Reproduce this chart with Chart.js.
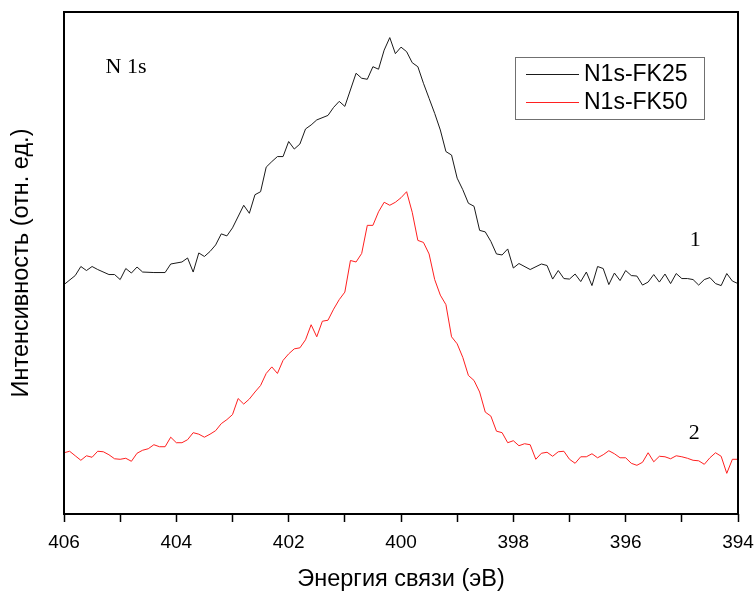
<!DOCTYPE html>
<html>
<head>
<meta charset="utf-8">
<script src="https://cdn.jsdelivr.net/npm/chart.js@4.4.1/dist/chart.umd.min.js"></script>
<style>
  html, body { margin: 0; padding: 0; background: #fff; }
  #wrap { width: 755px; height: 596px; position: relative; }
</style>
</head>
<body>
<div id="wrap"><canvas id="chart_n1s"></canvas></div>
<script>
// binding energy grid, eV (0.1 eV step)
var energy = [
  406.0, 405.9, 405.8, 405.7, 405.6, 405.5, 405.4, 405.3, 405.2, 405.1,
  405.0, 404.9, 404.8, 404.7, 404.6, 404.5, 404.4, 404.3, 404.2, 404.1,
  404.0, 403.9, 403.8, 403.7, 403.6, 403.5, 403.4, 403.3, 403.2, 403.1,
  403.0, 402.9, 402.8, 402.7, 402.6, 402.5, 402.4, 402.3, 402.2, 402.1,
  402.0, 401.9, 401.8, 401.7, 401.6, 401.5, 401.4, 401.3, 401.2, 401.1,
  401.0, 400.9, 400.8, 400.7, 400.6, 400.5, 400.4, 400.3, 400.2, 400.1,
  400.0, 399.9, 399.8, 399.7, 399.6, 399.5, 399.4, 399.3, 399.2, 399.1,
  399.0, 398.9, 398.8, 398.7, 398.6, 398.5, 398.4, 398.3, 398.2, 398.1,
  398.0, 397.9, 397.8, 397.7, 397.6, 397.5, 397.4, 397.3, 397.2, 397.1,
  397.0, 396.9, 396.8, 396.7, 396.6, 396.5, 396.4, 396.3, 396.2, 396.1,
  396.0, 395.9, 395.8, 395.7, 395.6, 395.5, 395.4, 395.3, 395.2, 395.1,
  395.0, 394.9, 394.8, 394.7, 394.6, 394.5, 394.4, 394.3, 394.2, 394.1,
  394.0
];

// N1s-FK25 (curve 1), arbitrary units
var fk25 = [
  45.7, null, 47.5, 49.3, 48.5, 49.3, 48.7, null, 47.7, 47.7,
  46.7, 48.9, 48.0, 49.2, 48.2, null, 48.1, null, 48.1, 49.8,
  null, 50.2, 51.0, 48.2, 52.0, 51.3, 52.3, 53.6, 55.8, 55.4,
  57.0, null, 61.5, 59.9, 63.6, 64.2, 69.1, 70.2, 71.2, 71.2,
  74.2, 72.7, 73.7, 76.7, 77.5, 78.5, null, 79.4, 81.0, 82.2,
  81.2, null, 87.8, 86.8, 86.6, 89.1, 88.6, 92.4, 94.9, 91.7,
  93.0, 92.1, 89.9, 89.1, 85.8, 82.8, 79.8, 76.5, 72.2, 71.5,
  66.9, 64.6, 61.9, 61.3, 56.5, 56.2, 54.3, 51.8, 51.6, 52.8,
  49.0, 49.9, null, 48.7, null, 49.8, 49.5, 46.8, 48.5, 46.9,
  46.8, 47.8, 46.3, 48.2, 45.5, 49.3, 48.9, 45.7, 48.0, 46.5,
  48.5, 47.5, 47.4, 45.6, 46.2, 47.7, 46.2, 47.8, 45.9, 47.9,
  46.9, 46.9, 46.7, 45.6, 46.7, 47.1, 45.9, 45.5, 47.9, 46.4,
  45.9
];

// N1s-FK50 (curve 2), arbitrary units
var fk50 = [
  12.2, 12.5, 11.6, 10.7, 11.6, 11.3, 12.5, 12.4, 11.8, 11.0,
  10.9, 11.1, 10.5, 12.1, 12.7, 13.0, 13.8, 13.4, 13.4, 15.3,
  14.2, 14.2, 14.8, 16.2, 15.9, 15.3, 15.9, 16.6, 18.0, 18.8,
  19.8, 23.0, 21.9, 22.9, 24.3, 25.6, 28.0, 29.3, 28.0, 30.6,
  31.9, 32.9, 33.1, 34.7, 37.7, 35.3, 38.4, 38.6, 40.8, 42.7,
  44.2, 50.5, 50.2, 51.9, 57.5, 57.5, 60.2, 62.1, 61.5, 62.1,
  63.0, 64.2, 60.1, 54.5, 54.1, 51.8, 46.7, 43.6, 41.7, 35.3,
  33.9, 31.2, 27.6, 26.6, 24.3, 20.3, 19.5, 16.5, 16.2, 14.2,
  14.6, 13.6, 14.0, 13.8, 10.9, 12.1, 12.3, 11.5, 12.4, 12.5,
  10.9, 10.1, 11.4, 11.4, 12.0, 11.2, 11.8, 12.6, 12.0, 11.2,
  11.2, 10.1, 9.7, 10.3, 12.2, 10.4, 11.5, 11.4, 11.0, 11.6,
  11.4, 11.1, 10.7, 10.6, 9.9, 11.2, 12.2, 11.5, 8.1, 10.9,
  10.9
];

// text notes inside the plot: [text, energy, intensity, align]
var notes = [
  ['N 1s', 405.26, 89.0, 'left'],
  ['1', 394.76, 54.6, 'center'],
  ['2', 394.78, 16.0, 'center']
];

function xy(ys) {
  return energy.map(function(e, i) { return { x: e, y: ys[i] }; });
}

var sansFont = '"Liberation Sans", Arial, sans-serif';
var serifFont = '"Liberation Serif", "Times New Roman", serif';

var chart_n1s = new Chart(document.getElementById('chart_n1s'), {
    type: 'line',
    data: {
        datasets: [
            {
                label: 'N1s-FK25',
                data: xy(fk25),
                borderColor: '#1a1a1a',
                borderWidth: 1,
                pointRadius: 0,
                tension: 0
            },
            {
                label: 'N1s-FK50',
                data: xy(fk50),
                borderColor: '#ff2020',
                borderWidth: 1,
                pointRadius: 0,
                tension: 0
            }
        ]
    },
    options: {
        animation: false,
        responsive: true,
        maintainAspectRatio: false,
        spanGaps: true,
        layout: {
            padding: { top: 12, right: 17, left: 0, bottom: 0 }
        },
        plugins: {
            legend: { display: false },
            tooltip: { enabled: false }
        },
        scales: {
            x: {
                type: 'linear',
                reverse: true,
                min: 394,
                max: 406,
                border: { display: false },
                grid: {
                    drawOnChartArea: false,
                    drawTicks: true,
                    tickLength: 8,
                    tickColor: '#000',
                    tickWidth: 1.5
                },
                ticks: {
                    stepSize: 1,
                    autoSkip: false,
                    maxRotation: 0,
                    padding: 9,
                    color: '#000',
                    font: { family: sansFont, size: 19 },
                    callback: function(value) {
                        return value % 2 === 0 ? String(value) : '';
                    }
                },
                title: {
                    display: true,
                    text: 'Энергия связи (эВ)',
                    color: '#000',
                    font: { family: sansFont, size: 23.5 },
                    padding: { top: 0, bottom: 2 }
                },
                afterFit: function(scale) {
                    scale.height = 82;
                    scale.paddingLeft = 0;
                    scale.paddingRight = 0;
                }
            },
            y: {
                type: 'linear',
                min: 0,
                max: 100,
                border: { display: false },
                grid: { display: false },
                ticks: { display: false },
                title: {
                    display: true,
                    text: 'Интенсивность (отн. ед.)',
                    color: '#000',
                    font: { family: sansFont, size: 23.5 },
                    padding: { top: 7, bottom: 0 }
                },
                afterFit: function(scale) { scale.width = 64; }
            }
        }
    },
    plugins: [{
        id: 'whiteBack',
        beforeDraw: (chart) => {
            const ctx = chart.ctx;
            ctx.save();
            ctx.fillStyle = 'white';
            ctx.fillRect(0, 0, chart.width, chart.height);
            ctx.restore();
        }
    }, {
        id: 'frameAndNotes',
        afterDraw: (chart) => {
            const ctx = chart.ctx;
            const a = chart.chartArea;
            const xs = chart.scales.x, ys = chart.scales.y;
            ctx.save();
            // plot frame
            ctx.strokeStyle = '#000';
            ctx.lineWidth = 2;
            ctx.strokeRect(a.left, a.top, a.right - a.left, a.bottom - a.top);

            // notes
            ctx.fillStyle = '#000';
            ctx.font = '22px ' + serifFont;
            ctx.textBaseline = 'middle';
            notes.forEach(function(n) {
                ctx.textAlign = n[3];
                ctx.fillText(n[0], xs.getPixelForValue(n[1]), ys.getPixelForValue(n[2]));
            });

            // legend box
            const bx = a.right - 223, by = a.top + 45, bw = 189, bh = 62;
            ctx.strokeStyle = '#707070';
            ctx.lineWidth = 1;
            ctx.strokeRect(bx + 0.5, by + 0.5, bw, bh);
            ctx.font = '23px ' + sansFont;
            ctx.textAlign = 'left';
            chart.data.datasets.forEach(function(ds, i) {
                const ly = by + 17 + i * 28;
                ctx.strokeStyle = ds.borderColor;
                ctx.lineWidth = 1.2;
                ctx.beginPath();
                ctx.moveTo(bx + 11, ly + 0.5);
                ctx.lineTo(bx + 64, ly + 0.5);
                ctx.stroke();
                ctx.fillStyle = '#000';
                ctx.fillText(ds.label, bx + 69, ly + 1);
            });
            ctx.restore();
        }
    }]
});
</script>
</body>
</html>
